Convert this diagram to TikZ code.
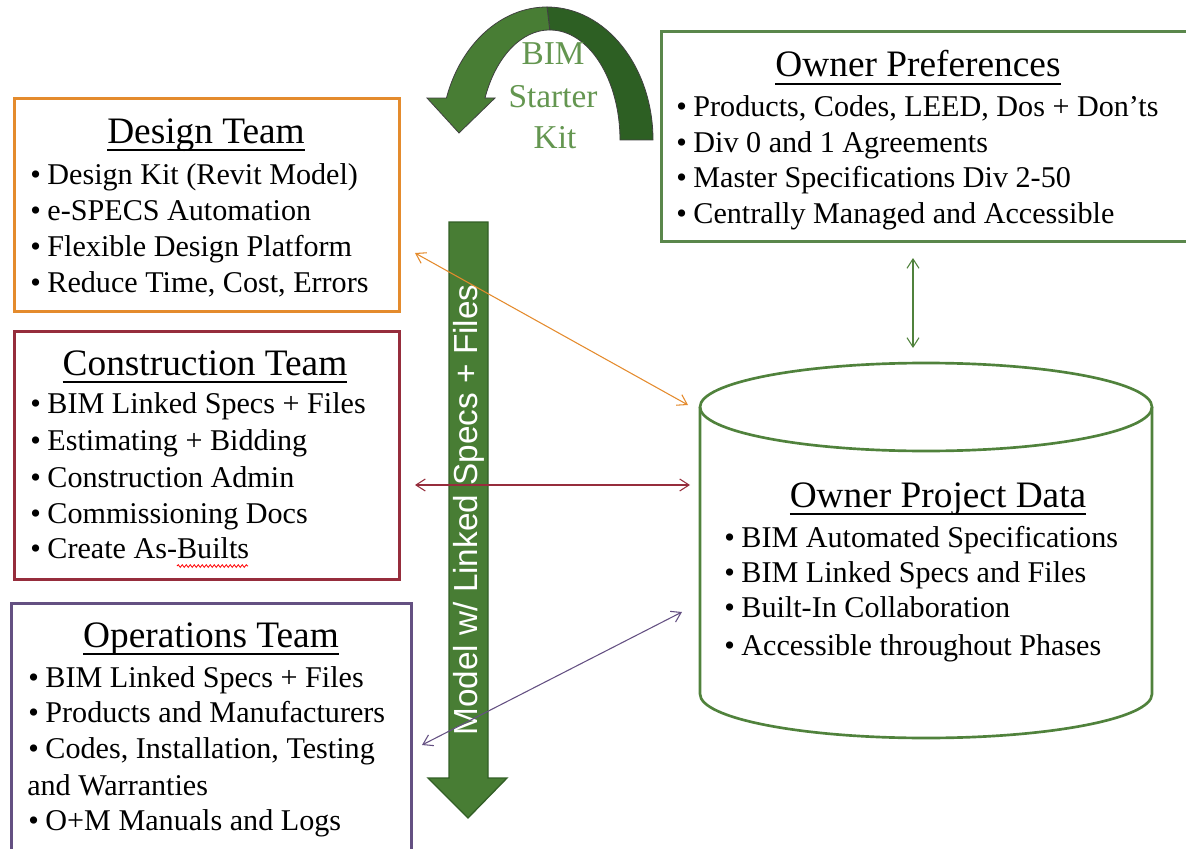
\documentclass[tikz,border=0pt]{standalone}
\usepackage{fontspec}
\setmainfont{Liberation Serif}
\newfontfamily\arrowfont{Liberation Sans}
\usetikzlibrary{arrows.meta,decorations.pathmorphing}

\definecolor{designC}{RGB}{228,139,45}
\definecolor{constrC}{RGB}{150,45,60}
\definecolor{operC}{RGB}{100,80,130}
\definecolor{ownerC}{RGB}{90,135,75}
\definecolor{dataC}{RGB}{80,130,60}
\definecolor{kitC}{RGB}{100,150,80}
\definecolor{arrowC}{RGB}{72,125,52}
\definecolor{arrowD}{RGB}{50,95,38}
\definecolor{arcDark}{RGB}{45,95,35}

\newcommand{\bul}{\textbullet\hspace{0.22em}}
\newcommand{\ttlrule}[1]{\setbox0=\hbox{#1}\rlap{\rule[-6pt]{\wd0}{1.2pt}}\box0}

\begin{document}
\begin{tikzpicture}[x=0.75pt, y=-0.75pt,
			teambox/.style={draw, line width=2pt, anchor=north west, inner sep=0pt},
			title/.style={anchor=base, inner sep=0pt, font=\fontsize{28}{32}\selectfont},
			item/.style={anchor=base west, inner sep=0pt, font=\fontsize{22.6}{27}\selectfont},
			kit/.style={anchor=base, inner sep=0pt, text=kitC, font=\fontsize{25}{30}\selectfont},
			link/.style={line width=0.8pt, {Straight Barb[length=7pt,width=9pt]}-{Straight Barb[length=7pt,width=9pt]}}
			]
			\useasboundingbox (0,0) rectangle (1186,849);
			
			% Boxes
			\node[teambox, draw=designC, minimum width=288.75pt, minimum height=159.75pt] (design) at (13,97) {};
			\node[teambox, draw=constrC, minimum width=288.75pt, minimum height=186pt] (constr) at (13,330) {};
			\node[teambox, draw=operC, minimum width=300pt, minimum height=195pt] (oper) at (10,602) {};
			\node[teambox, draw=ownerC, minimum width=397.5pt, minimum height=157.5pt] (owner) at (660,30) {};
			
			% Database
			\draw[dataC, line width=2pt] (926,407) ellipse[x radius=226, y radius=44];
			\draw[dataC, line width=2pt] (700,407) -- (700,694) arc[start angle=180, end angle=0, x radius=226, y radius=44] -- (1152,407);
			
			% Design Team
			\node[title] (designT) at (206,143) {\ttlrule{Design Team}};
			\node[item] (d1) at (30,184) {\bul Design Kit (Revit Model)};
			\node[item] (d2) at (30,220) {\bul e-SPECS Automation};
			\node[item] (d3) at (30,256) {\bul Flexible Design Platform};
			\node[item] (d4) at (30,292) {\bul Reduce Time, Cost, Errors};
			
			% Construction Team
			\node[title] (constrT) at (205,375) {\ttlrule{Construction Team}};
			\node[item] (c1) at (30,413) {\bul BIM Linked Specs + Files};
			\node[item] (c2) at (30,450) {\bul Estimating + Bidding};
			\node[item] (c3) at (30,487) {\bul Construction Admin};
			\node[item] (c4) at (30,523) {\bul Commissioning Docs};
			\node[item] (c5) at (30,558) {\bul Create As-Builts};
			\draw[red, line width=0.6pt, decorate, decoration={snake, amplitude=1pt, segment length=3pt}] (177,566) -- (248,566);
			
			% Operations Team
			\node[title] (operT) at (211,647) {\ttlrule{Operations Team}};
			\node[item] (o1) at (28,687) {\bul BIM Linked Specs + Files};
			\node[item] (o2) at (28,722) {\bul Products and Manufacturers};
			\node[item] (o3) at (28,758) {\bul Codes, Installation, Testing};
			\node[item] (o4) at (27,795) {and Warranties};
			\node[item] (o5) at (28,830) {\bul O+M Manuals and Logs};
			
			% Owner Preferences
			\node[title] (ownerT) at (918,77) {\ttlrule{Owner Preferences}};
			\node[item] (p1) at (676,117) {\bul Products, Codes, LEED, Dos + Don’ts};
			\node[item] (p2) at (676,152) {\bul Div 0 and 1 Agreements};
			\node[item] (p3) at (676,187) {\bul Master Specifications Div 2-50};
			\node[item] (p4) at (676,223) {\bul Centrally Managed and Accessible};
			
			% Owner Project Data
			\node[title] (dataT) at (938,507) {\ttlrule{Owner Project Data}};
			\node[item] (b1) at (724,547) {\bul BIM Automated Specifications};
			\node[item] (b2) at (724,582) {\bul BIM Linked Specs and Files};
			\node[item] (b3) at (724,617) {\bul Built-In Collaboration};
			\node[item] (b4) at (724,655) {\bul Accessible throughout Phases};
			
			% Starter kit arrow
			\filldraw[arcDark, draw=black!75, line width=0.6pt] (653,140) arc[start angle=0, end angle=-90, x radius=106, y radius=133] -- (550,30) arc[start angle=-90, end angle=0, x radius=70, y radius=110] -- cycle;
			\filldraw[arrowC, draw=black!75, line width=0.6pt] (547,7) arc[start angle=-90, end angle=-161.6, x radius=106, y radius=133] -- (427,98) -- (459,133) -- (495,98) -- (485,98) arc[start angle=-157.6, end angle=-90, x radius=70, y radius=110] -- cycle;
			\node[kit] (bim) at (553,65) {BIM};
			\node[kit] (starter) at (553,108) {Starter};
			\node[kit] (kitT) at (555,148) {Kit};
			
			% Model arrow
			\draw[fill=arrowC, draw=arrowD, line width=1pt] (449,222) -- (488,222) -- (488,778) -- (507,778) -- (468,818) -- (428,778) -- (449,778) -- cycle;
			\node[rotate=90, text=white, inner sep=0pt, font=\arrowfont\fontsize{25}{30}\selectfont] (model) at (469,510) {Model w/ Linked Specs + Files};
			
			% Connector ends
			\coordinate (dEnd) at (415,253);
			\coordinate (dataA) at (688,405);
			\coordinate (cEnd) at (415,485);
			\coordinate (dataB) at (690,485);
			\coordinate (oEnd) at (422,745);
			\coordinate (dataC) at (682,612);
			\coordinate (pEnd) at (913,258);
			\coordinate (dataD) at (913,348);
			
			% Edges
			\draw[link, designC] (dEnd) -- (dataA);
			\draw[link, constrC] (cEnd) -- (dataB);
			\draw[link, operC] (oEnd) -- (dataC);
			\draw[link, dataC] (pEnd) -- (dataD);
			
		\end{tikzpicture}
\end{document}
